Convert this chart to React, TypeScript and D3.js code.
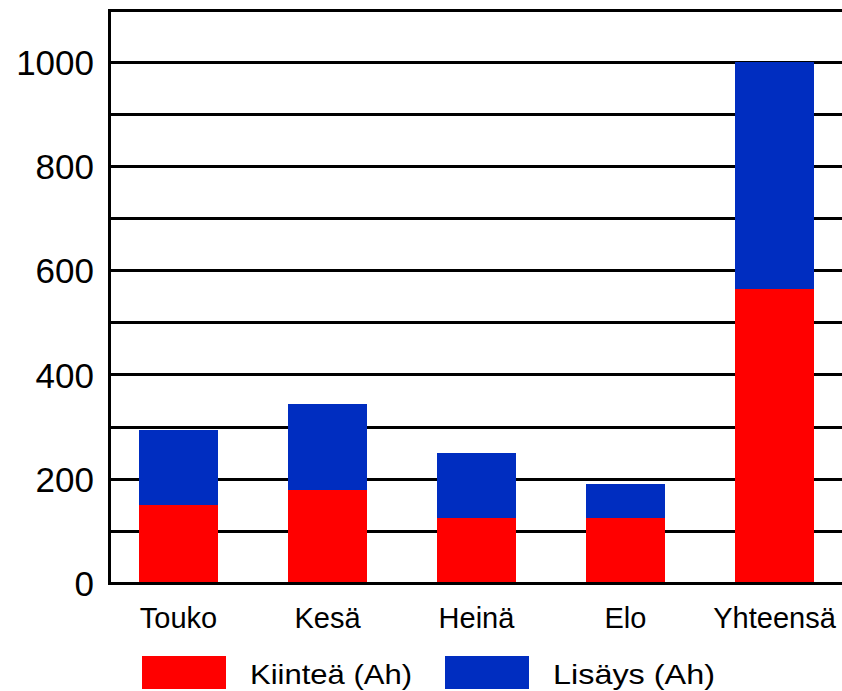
import React from "react";
import * as d3 from "d3";

// Monthly amp-hour figures: fixed part and additional part
const categories = ["Touko", "Kesä", "Heinä", "Elo", "Yhteensä"];
const kiintea = [150, 180, 125, 125, 565];
const lisays = [145, 165, 125, 65, 435];
const yTicks = [0, 200, 400, 600, 800, 1000];
const seriesNames = ["Kiinteä (Ah)", "Lisäys (Ah)"];
const seriesColors = ["#FF0000", "#002DC0"];

const W = 842;
const H = 691;
const FONT = "'Liberation Sans', Arial, sans-serif";

export default function App() {
  const x = d3
    .scaleBand<string>()
    .domain(categories)
    .range([104, 849])
    .paddingInner(0.47)
    .paddingOuter(0.235);

  const y = d3.scaleLinear().domain([0, 1100]).range([583.5, 10]);

  const gridValues = d3.range(100, 1101, 100);

  const rows = categories.map((c, i) => ({
    cat: c,
    Kiintea: kiintea[i],
    Lisays: lisays[i],
  }));
  const stacked = d3.stack<any>().keys(["Kiintea", "Lisays"])(rows);

  const axisX = 109.5;

  return (
    <svg
      width={W}
      height={H}
      style={{ position: "absolute", left: 0, top: 0, background: "#fff" }}
      fontFamily={FONT}
    >
      {/* horizontal grid */}
      {gridValues.map((v) => (
        <line
          key={v}
          x1={axisX}
          x2={W}
          y1={y(v)}
          y2={y(v)}
          stroke="#000"
          strokeWidth={3}
          shapeRendering="crispEdges"
        />
      ))}

      {/* stacked bars */}
      {stacked.map((layer, si) =>
        layer.map((d, i) => (
          <rect
            key={`${si}-${i}`}
            x={x(categories[i])}
            width={x.bandwidth()}
            y={y(d[1])}
            height={y(d[0]) - y(d[1])}
            fill={seriesColors[si]}
            shapeRendering="crispEdges"
          />
        ))
      )}

      {/* axes */}
      <line
        x1={axisX}
        x2={W}
        y1={y(0)}
        y2={y(0)}
        stroke="#000"
        strokeWidth={3.5}
        shapeRendering="crispEdges"
      />
      <line
        x1={axisX}
        x2={axisX}
        y1={y(1100) - 1.5}
        y2={y(0) + 1.5}
        stroke="#000"
        strokeWidth={3}
        shapeRendering="crispEdges"
      />

      {/* y tick labels */}
      {yTicks.map((t) => (
        <text
          key={t}
          x={94}
          y={y(t)}
          dy="0.36em"
          textAnchor="end"
          fontSize={35}
          fill="#000"
        >
          {t}
        </text>
      ))}

      {/* category labels */}
      {categories.map((c) => (
        <text
          key={c}
          x={(x(c) as number) + x.bandwidth() / 2}
          y={628}
          textAnchor="middle"
          fontSize={29}
          fill="#000"
        >
          {c}
        </text>
      ))}

      {/* legend */}
      {seriesNames.map((name, i) => {
        const lx = i === 0 ? 142 : 445;
        return (
          <g key={name}>
            <rect
              x={lx}
              y={656}
              width={84}
              height={33}
              fill={seriesColors[i]}
            />
            <text
              x={lx + 108}
              y={684}
              fontSize={28}
              fill="#000"
              textLength={i === 0 ? 162 : 162}
              lengthAdjust="spacingAndGlyphs"
            >
              {name}
            </text>
          </g>
        );
      })}
    </svg>
  );
}
